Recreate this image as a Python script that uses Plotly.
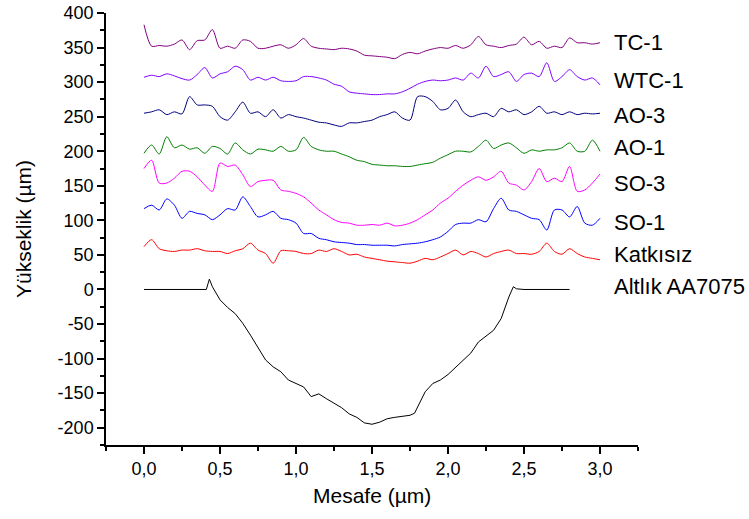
import plotly.graph_objects as go

# Distance grid (µm) shared by the coloured profiles
MESAFE = [0.00, 0.05, 0.10, 0.15, 0.20, 0.25, 0.30, 0.35, 0.40, 0.45,
          0.50, 0.55, 0.60, 0.65, 0.70, 0.75, 0.80, 0.85, 0.90, 0.95,
          1.00, 1.05, 1.10, 1.15, 1.20, 1.25, 1.30, 1.35, 1.40, 1.45,
          1.50, 1.55, 1.60, 1.65, 1.70, 1.75, 1.80, 1.85, 1.90, 1.95,
          2.00, 2.05, 2.10, 2.15, 2.20, 2.25, 2.30, 2.35, 2.40, 2.45,
          2.50, 2.55, 2.60, 2.65, 2.70, 2.75, 2.80, 2.85, 2.90, 2.95,
          3.00]

TC1 = [383, 352, 353, 352, 355, 361, 347, 360, 361, 376,
       349, 352, 349, 361, 359, 349, 349, 352, 354, 349,
       354, 363, 352, 349, 348, 347, 349, 348, 345, 339,
       338, 337, 336, 334, 340, 343, 341, 345, 348, 350,
       349, 353, 349, 354, 366, 354, 352, 350, 353, 355,
       365, 354, 359, 349, 352, 350, 364, 357, 357, 355,
       357]

WTC1 = [307, 310, 308, 312, 309, 305, 303, 311, 321, 306,
        312, 315, 323, 318, 303, 307, 303, 307, 302, 301,
        302, 308, 308, 306, 303, 297, 294, 286, 284, 283,
        282, 282, 283, 283, 286, 291, 297, 301, 303, 302,
        303, 306, 303, 313, 306, 323, 308, 311, 315, 301,
        311, 313, 308, 328, 301, 308, 318, 308, 303, 306,
        296]

AO3 = [255, 257, 260, 253, 257, 254, 279, 267, 267, 265,
       250, 245, 257, 271, 255, 257, 250, 260, 248, 253,
       250, 248, 245, 242, 241, 238, 236, 241, 241, 243,
       245, 250, 253, 257, 248, 245, 279, 279, 272, 260,
       262, 274, 257, 250, 253, 255, 250, 262, 257, 260,
       253, 257, 265, 255, 257, 253, 257, 253, 255, 254,
       255]

AO1 = [197, 209, 196, 221, 205, 209, 203, 205, 197, 207,
       204, 196, 212, 202, 196, 203, 202, 200, 207, 200,
       202, 220, 207, 202, 200, 200, 196, 192, 187, 185,
       181, 180, 179, 179, 178, 178, 180, 182, 184, 190,
       195, 200, 200, 199, 207, 216, 204, 209, 212, 205,
       197, 202, 200, 202, 202, 205, 212, 200, 200, 216,
       200]

SO3 = [175, 187, 154, 154, 161, 171, 171, 163, 151, 142,
       183, 178, 180, 166, 149, 156, 158, 158, 144, 142,
       139, 134, 125, 115, 108, 101, 97, 96, 93, 93,
       94, 93, 96, 92, 93, 96, 101, 108, 115, 125,
       132, 142, 151, 158, 163, 158, 163, 171, 154, 151,
       144, 156, 175, 156, 161, 156, 178, 142, 144, 154,
       167]

SO1 = [117, 122, 115, 131, 122, 103, 113, 110, 108, 101,
       108, 117, 115, 134, 120, 105, 108, 113, 103, 101,
       96, 81, 81, 74, 72, 69, 68, 67, 65, 65,
       64, 64, 64, 63, 65, 66, 67, 69, 72, 76,
       84, 94, 96, 96, 101, 98, 117, 132, 115, 113,
       108, 103, 101, 86, 115, 115, 105, 120, 96, 93,
       103]

KATKISIZ = [62, 72, 59, 56, 55, 57, 57, 59, 56, 55,
            55, 52, 56, 59, 67, 57, 52, 38, 56, 56,
            55, 52, 52, 57, 55, 59, 55, 50, 51, 47,
            45, 43, 41, 40, 39, 38, 41, 45, 43, 47,
            52, 57, 50, 55, 52, 47, 52, 55, 57, 52,
            52, 51, 55, 67, 55, 51, 59, 52, 47, 45,
            43]

# Substrate (wear track) profile
ALTLIK_X = [0.00, 0.10, 0.20, 0.30, 0.35, 0.40, 0.41, 0.43, 0.45, 0.50,
            0.55, 0.60, 0.65, 0.70, 0.75, 0.80, 0.85, 0.90, 0.95, 1.00,
            1.05, 1.10, 1.15, 1.20, 1.25, 1.30, 1.35, 1.40, 1.45, 1.50,
            1.55, 1.60, 1.65, 1.70, 1.75, 1.78, 1.80, 1.85, 1.90, 1.95,
            2.00, 2.05, 2.10, 2.15, 2.20, 2.25, 2.30, 2.35, 2.40, 2.43,
            2.45, 2.50, 2.60, 2.70, 2.80]
ALTLIK_Y = [0, 0, 1, 0, 1, 0, 0, 15, 4, -15,
            -26, -35, -49, -66, -84, -102, -112, -119, -131, -136,
            -141, -155, -151, -158, -165, -171, -180, -185, -193, -195,
            -192, -187, -185, -184, -182, -179, -170, -148, -136, -131,
            -123, -113, -102, -92, -76, -68, -59, -42, -11, 4,
            1, 0, 0, 0, 0]

NAMES = ["TC-1", "WTC-1", "AO-3", "AO-1", "SO-3", "SO-1", "Katkısız", "Altlık AA7075"]
COLORS = ["#800080", "#8000FF", "#000080", "#008000", "#FF00FF", "#0000FF", "#FF0000", "#000000"]
LABEL_Y = [357, 302, 252, 205, 153, 97, 50, 4]

X_TICKS = [0.0, 0.5, 1.0, 1.5, 2.0, 2.5, 3.0]
X_TICKTEXT = ["0,0", "0,5", "1,0", "1,5", "2,0", "2,5", "3,0"]
Y_TICKS = [-200, -150, -100, -50, 0, 50, 100, 150, 200, 250, 300, 350, 400]
Y_TICKTEXT = ["-200", "-150", "-100", "-50", "0", "50", "100", "150", "200", "250", "300", "350", "400"]

FONT = "Arial, Liberation Sans, sans-serif"

series = [TC1, WTC1, AO3, AO1, SO3, SO1, KATKISIZ]

fig = go.Figure()
for name, ys, col in zip(NAMES[:7], series, COLORS[:7]):
    fig.add_trace(go.Scatter(x=MESAFE, y=ys, mode="lines", name=name,
                             line=dict(color=col, width=1, shape="spline", smoothing=0.8)))
fig.add_trace(go.Scatter(x=ALTLIK_X, y=ALTLIK_Y, mode="lines", name=NAMES[7],
                         line=dict(color=COLORS[7], width=1)))

for name, ly in zip(NAMES, LABEL_Y):
    fig.add_annotation(x=3.08, y=ly, xref="x", yref="y", text=name, showarrow=False,
                       xanchor="left", yanchor="middle",
                       font=dict(family=FONT, size=22, color="black"))

fig.add_annotation(x=0.5, y=-0.117, xref="paper", yref="paper", text="Mesafe (µm)",
                   showarrow=False, xanchor="center", yanchor="middle",
                   font=dict(family=FONT, size=21, color="black"))
fig.add_annotation(x=-0.156, y=0.5, xref="paper", yref="paper", text="Yükseklik (µm)",
                   showarrow=False, xanchor="center", yanchor="middle", textangle=-90,
                   font=dict(family=FONT, size=21, color="black"))

fig.update_layout(
    width=749, height=519,
    margin=dict(l=106, r=111, t=13, b=74, autoexpand=False),
    paper_bgcolor="white", plot_bgcolor="white",
    showlegend=False,
    font=dict(family=FONT, size=18, color="black"),
)
fig.update_xaxes(range=[-0.25, 3.25], showgrid=False, zeroline=False, automargin=False,
                 showline=True, linecolor="black", linewidth=1.5,
                 ticks="outside", ticklen=7, tickwidth=1.5, tickcolor="black",
                 tickmode="array", tickvals=X_TICKS, ticktext=X_TICKTEXT,
                 tickfont=dict(family=FONT, size=18),
                 minor=dict(tickmode="linear", tick0=0, dtick=0.25, ticks="outside",
                            ticklen=4, tickwidth=1.5, tickcolor="black", showgrid=False))
fig.update_yaxes(range=[-225, 400], showgrid=False, zeroline=False, automargin=False,
                 showline=True, linecolor="black", linewidth=1.5,
                 ticks="outside", ticklen=7, tickwidth=1.5, tickcolor="black",
                 tickmode="array", tickvals=Y_TICKS, ticktext=Y_TICKTEXT,
                 tickfont=dict(family=FONT, size=18),
                 minor=dict(tickmode="linear", tick0=0, dtick=25, ticks="outside",
                            ticklen=4, tickwidth=1.5, tickcolor="black", showgrid=False))

fig.write_html("out.html", config={"displayModeBar": False},
               post_script="document.body.style.margin='0px';document.body.style.overflow='hidden';")
